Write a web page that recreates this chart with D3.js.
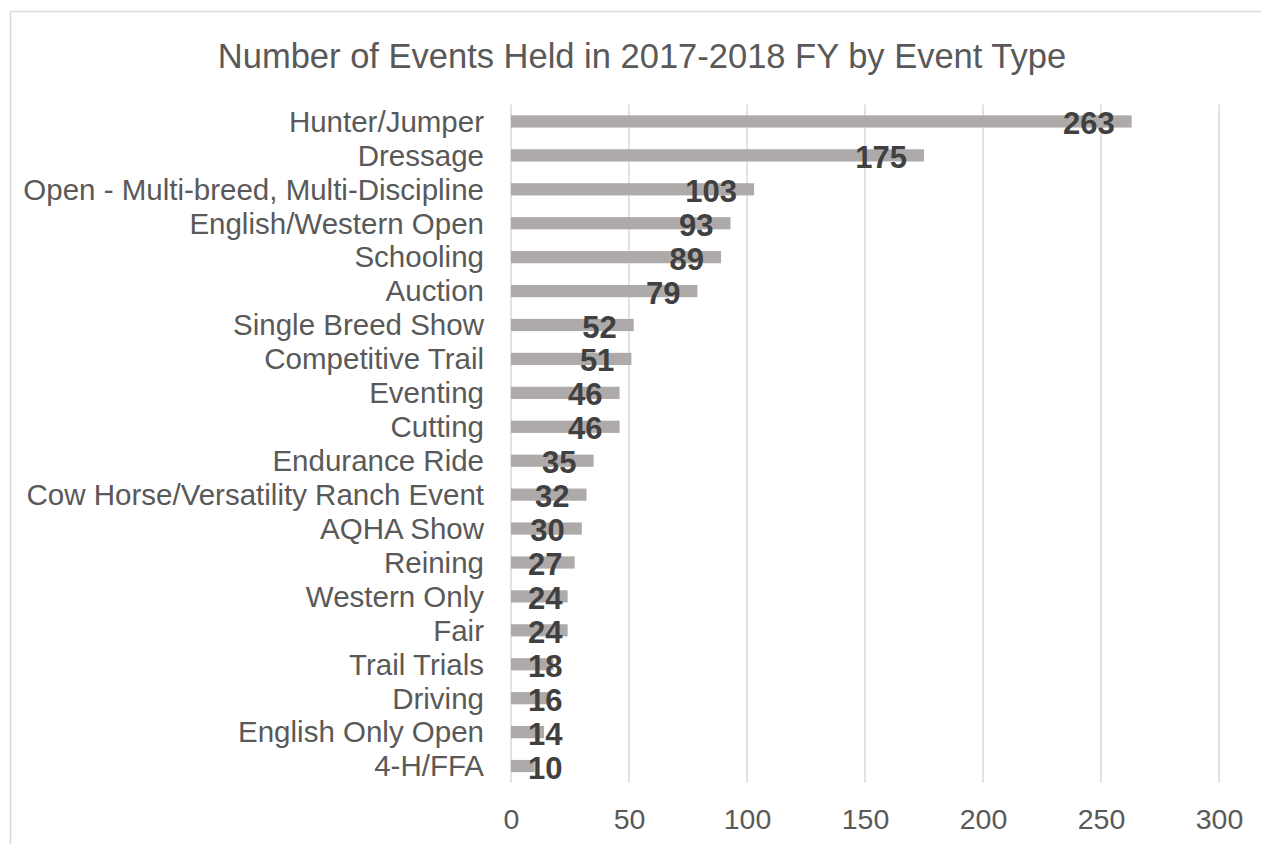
<!DOCTYPE html>
<html>
<head>
<meta charset="utf-8">
<script src="https://cdn.jsdelivr.net/npm/d3@7"></script>
<style>
  body { margin: 0; background: #fff; }
  svg { font-family: "Liberation Sans", Arial, sans-serif; }
</style>
</head>
<body>
<div id="chart"></div>
<script>
const eventTypes = ["Hunter/Jumper", "Dressage", "Open - Multi-breed, Multi-Discipline",
  "English/Western Open", "Schooling", "Auction", "Single Breed Show", "Competitive Trail",
  "Eventing", "Cutting", "Endurance Ride", "Cow Horse/Versatility Ranch Event", "AQHA Show",
  "Reining", "Western Only", "Fair", "Trail Trials", "Driving", "English Only Open", "4-H/FFA"]
const eventCounts = [263, 175, 103, 93, 89, 79, 52, 51, 46, 46, 35, 32, 30, 27, 24, 24, 18, 16, 14, 10]
const xTicks = [0, 50, 100, 150, 200, 250, 300]
const chartTitle = "Number of Events Held in 2017-2018 FY by Event Type"

const width = 1261, height = 844
const margin = {top: 104.5, right: 42, bottom: 61, left: 511}

const data = eventTypes.map((t, i) => ({type: t, value: eventCounts[i]}))

const svg = d3.select("#chart").append("svg")
    .attr("width", width)
    .attr("height", height)

// chart frame
svg.append("rect")
    .attr("x", 10.5).attr("y", 11.5)
    .attr("width", width + 20).attr("height", height + 20)
    .attr("fill", "none")
    .attr("stroke", "#d9d9d9")
    .attr("stroke-width", 1.5)

svg.append("text")
    .attr("x", 642)
    .attr("y", 68)
    .attr("text-anchor", "middle")
    .attr("fill", "#595959")
    .attr("font-size", 34.5)
    .text(chartTitle)

const x = d3.scaleLinear()
    .domain([0, 300])
    .range([margin.left, 1219])

const y = d3.scaleBand()
    .domain(eventTypes)
    .range([margin.top, height - margin.bottom])
    .paddingInner(0.64)
    .paddingOuter(0.32)

// gridlines
svg.append("g")
  .selectAll("line")
  .data(xTicks)
  .join("line")
    .attr("x1", d => x(d)).attr("x2", d => x(d))
    .attr("y1", margin.top).attr("y2", height - margin.bottom)
    .attr("stroke", "#d9d9d9")
    .attr("stroke-width", 1.5)

const xAxis = d3.axisBottom(x)
    .tickValues(xTicks)
    .tickSize(0)
    .tickPadding(26)

svg.append("g")
    .attr("transform", `translate(0,${height - margin.bottom})`)
    .call(xAxis)
    .call(g => g.select(".domain").remove())
    .call(g => g.selectAll("text")
        .attr("fill", "#595959")
        .attr("font-size", 28.5)
        .attr("font-family", "Liberation Sans, Arial, sans-serif"))

const yAxis = d3.axisLeft(y)
    .tickSize(0)
    .tickPadding(27)

svg.append("g")
    .attr("transform", `translate(${margin.left},0)`)
    .call(yAxis)
    .call(g => g.select(".domain").remove())
    .call(g => g.selectAll("text")
        .attr("fill", "#595959")
        .attr("font-size", 29.5)
        .attr("dy", "0.35em")
        .attr("font-family", "Liberation Sans, Arial, sans-serif"))

svg.append("g")
  .selectAll("rect")
  .data(data)
  .join("rect")
    .attr("x", x(0))
    .attr("y", d => y(d.type))
    .attr("width", d => x(d.value) - x(0))
    .attr("height", y.bandwidth())
    .attr("fill", "#aeaaaa")

// data labels: inside end, clamped to the base for short bars
const labels = svg.append("g")
  .selectAll("text")
  .data(data)
  .join("text")
    .attr("font-size", 31)
    .attr("font-weight", "bold")
    .attr("fill", "#404040")
    .attr("y", d => y(d.type) + y.bandwidth() / 2 + 12.5)
    .text(d => d.value)

labels.each(function(d) {
  const w = this.getComputedTextLength()
  const start = Math.max(x(d.value) - 17 - w, x(0) + 17)
  d3.select(this).attr("x", start)
})
</script>
</body>
</html>
